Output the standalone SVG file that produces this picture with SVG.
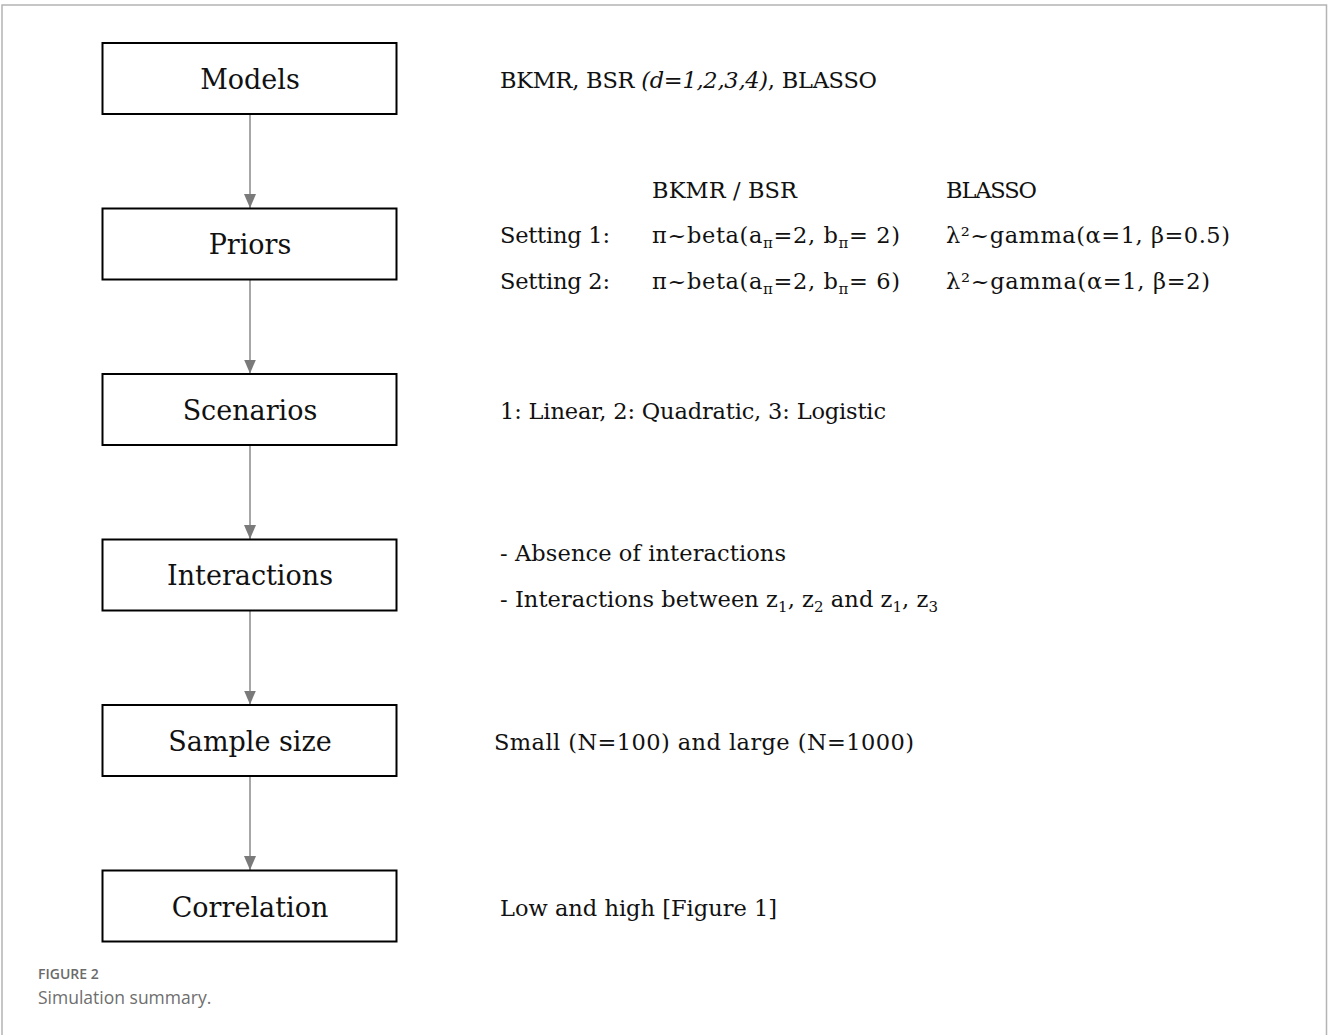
<svg xmlns="http://www.w3.org/2000/svg" width="1328" height="1035" viewBox="0 0 1328 1035">
  <style>
    .frame { fill: none; stroke: #b4b4b4; stroke-width: 1.5; }
    .box { fill: #ffffff; stroke: #000000; stroke-width: 2; }
    .lbl { font-family: "DejaVu Serif", "Liberation Serif", serif; font-size: 27px; fill: #111111; text-anchor: middle; }
    .txt { font-family: "DejaVu Serif", "Liberation Serif", serif; font-size: 22.5px; fill: #111111; }
    .sub { font-size: 15px; }
    .conn { stroke: #8a8a8a; stroke-width: 1.5; fill: none; marker-end: url(#arr); }
    .caphead { font-family: "Open Sans", "Noto Sans", sans-serif; font-size: 14px; font-weight: 600; fill: #6b6b6b; }
    .cap { font-family: "Open Sans", "Noto Sans", sans-serif; font-size: 17.5px; fill: #6e6e6e; }
  </style>
  <defs>
    <marker id="arr" markerWidth="14" markerHeight="12" refX="14" refY="6" orient="auto" markerUnits="userSpaceOnUse" viewBox="0 0 14 12">
      <path d="M0,0 L14,6 L0,12 Z" fill="#7a7a7a"/>
    </marker>
  </defs>
  <rect width="1328" height="1035" fill="#ffffff"/>
  <path class="frame" d="M2,1035 L2,5 L1326.5,5 L1326.5,1035"/>

  <g id="connectors">
    <line class="conn" x1="250" y1="114" x2="250" y2="208"/>
    <line class="conn" x1="250" y1="279.5" x2="250" y2="373.5"/>
    <line class="conn" x1="250" y1="445" x2="250" y2="539"/>
    <line class="conn" x1="250" y1="610.5" x2="250" y2="704.5"/>
    <line class="conn" x1="250" y1="776" x2="250" y2="870"/>
  </g>

  <g id="node-models">
    <rect class="box" x="102.5" y="43" width="294" height="71"/>
    <text class="lbl" x="250" y="89">Models</text>
  </g>
  <g id="node-priors">
    <rect class="box" x="102.5" y="208.5" width="294" height="71"/>
    <text class="lbl" x="250" y="254">Priors</text>
  </g>
  <g id="node-scenarios">
    <rect class="box" x="102.5" y="374" width="294" height="71"/>
    <text class="lbl" x="250" y="420">Scenarios</text>
  </g>
  <g id="node-interactions">
    <rect class="box" x="102.5" y="539.5" width="294" height="71"/>
    <text class="lbl" x="250" y="585">Interactions</text>
  </g>
  <g id="node-samplesize">
    <rect class="box" x="102.5" y="705" width="294" height="71"/>
    <text class="lbl" x="250" y="751">Sample size</text>
  </g>
  <g id="node-correlation">
    <rect class="box" x="102.5" y="870.5" width="294" height="71"/>
    <text class="lbl" x="250" y="917">Correlation</text>
  </g>

  <g id="annotations">
    <text class="txt" x="500" y="88" textLength="377">BKMR, BSR <tspan font-style="italic">(d=1,2,3,4)</tspan>, BLASSO</text>

    <text class="txt" x="652" y="198" textLength="145">BKMR / BSR</text>
    <text class="txt" x="946" y="198" textLength="91">BLASSO</text>
    <text class="txt" x="500" y="243" textLength="110">Setting 1:</text>
    <text class="txt" x="652" y="243" textLength="248">π~beta(a<tspan class="sub" dy="5">π</tspan><tspan dy="-5">=2, b</tspan><tspan class="sub" dy="5">π</tspan><tspan dy="-5">= 2)</tspan></text>
    <text class="txt" x="946" y="243" textLength="284">λ²~gamma(α=1, β=0.5)</text>
    <text class="txt" x="500" y="289" textLength="110">Setting 2:</text>
    <text class="txt" x="652" y="289" textLength="248">π~beta(a<tspan class="sub" dy="5">π</tspan><tspan dy="-5">=2, b</tspan><tspan class="sub" dy="5">π</tspan><tspan dy="-5">= 6)</tspan></text>
    <text class="txt" x="946" y="289" textLength="264">λ²~gamma(α=1, β=2)</text>

    <text class="txt" x="500" y="419" textLength="386">1: Linear, 2: Quadratic, 3: Logistic</text>

    <text class="txt" x="500" y="561" textLength="286">- Absence of interactions</text>
    <text class="txt" x="500" y="607" textLength="438">- Interactions between z<tspan class="sub" dy="5">1</tspan><tspan dy="-5">, z</tspan><tspan class="sub" dy="5">2</tspan><tspan dy="-5"> and z</tspan><tspan class="sub" dy="5">1</tspan><tspan dy="-5">, z</tspan><tspan class="sub" dy="5">3</tspan></text>

    <text class="txt" x="494" y="750" textLength="420">Small (N=100) and large (N=1000)</text>

    <text class="txt" x="500" y="916" textLength="277">Low and high [Figure 1]</text>
  </g>

  <g id="caption">
    <text class="caphead" x="38" y="979">FIGURE 2</text>
    <text class="cap" x="38" y="1004">Simulation summary.</text>
  </g>
</svg>
